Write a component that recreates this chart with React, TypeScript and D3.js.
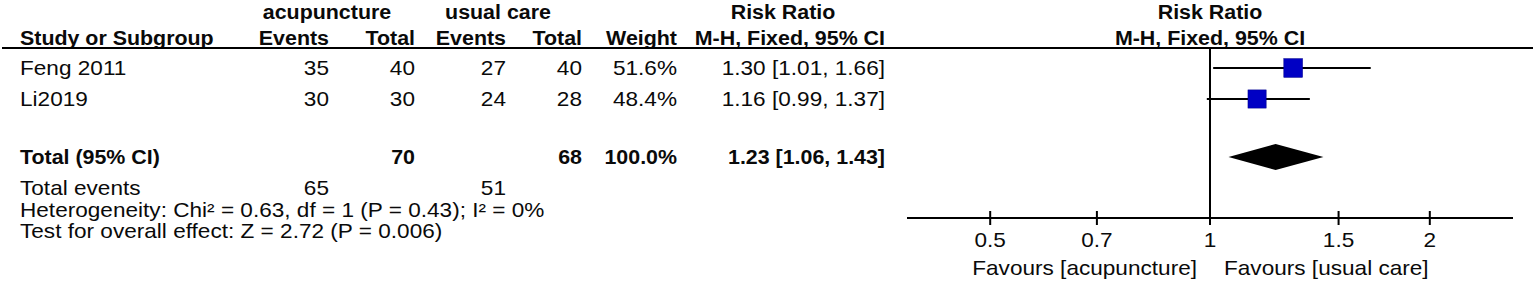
import React from "react";
import * as d3 from "d3";

const studies = ["Feng 2011", "Li2019"];
const expEvents = [35, 30];
const expTotal = [40, 30];
const ctlEvents = [27, 24];
const ctlTotal = [40, 28];
const weights = [51.6, 48.4];
const rr = [1.3, 1.16];
const rrLo = [1.01, 0.99];
const rrHi = [1.66, 1.37];

const pooled = { rr: 1.23, lo: 1.06, hi: 1.43 };
const totalExp = 70;
const totalCtl = 68;
const totalExpEvents = 65;
const totalCtlEvents = 51;
const heterogeneityText = "Heterogeneity: Chi\u00b2 = 0.63, df = 1 (P = 0.43); I\u00b2 = 0%";
const overallText = "Test for overall effect: Z = 2.72 (P = 0.006)";
const ticks = [0.5, 0.7, 1, 1.5, 2];
const favLeft = "Favours [acupuncture]";
const favRight = "Favours [usual care]";

const W = 1535;
const H = 284;
const FONT = "'Liberation Sans', Arial, sans-serif";
const FS = 20;
const SX = 1.13;
const SXB = 1.07;

const fmt2 = d3.format(".2f");
const rrText = (m: number, l: number, h: number) => `${fmt2(m)} [${fmt2(l)}, ${fmt2(h)}]`;

function T({ x, y, children, fontWeight, ...rest }: any) {
  const sx = fontWeight === "bold" ? SXB : SX;
  return (
    <text
      transform={`translate(${x},${y}) scale(${sx},1)`}
      fontFamily={FONT}
      fontSize={FS}
      fontWeight={fontWeight}
      fill="#0a0a0a"
      {...rest}
    >
      {children}
    </text>
  );
}

export default function App() {
  const x = d3.scaleLog().domain([1 / 2.6, 2.6]).range([907, 1513]);
  const rowMid = [68, 99];
  const totalMid = 157;
  const off = 7.2;
  const evBase = 195;
  const hetBase = 216.5;
  const testBase = 238;
  const axisY = 218;
  const lineY = 48;
  const col = { ev1: 329, tot1: 415, ev2: 506, tot2: 582, w: 677, rr: 885 };

  const diamond = d3.line()([
    [x(pooled.lo), totalMid],
    [x(pooled.rr), totalMid - 13],
    [x(pooled.hi), totalMid],
    [x(pooled.rr), totalMid + 13],
  ]) + "Z";

  const tb = totalMid + off;

  return (
    <div style={{ position: "absolute", left: 0, top: 0 }}>
      <svg width={W} height={H} style={{ display: "block", background: "#fff" }}>
        {/* headers */}
        <T x={327} y={19} textAnchor="middle" fontWeight="bold">acupuncture</T>
        <T x={498} y={19} textAnchor="middle" fontWeight="bold">usual care</T>
        <T x={783} y={19} textAnchor="middle" fontWeight="bold">Risk Ratio</T>
        <T x={1210} y={19} textAnchor="middle" fontWeight="bold">Risk Ratio</T>
        <T x={20} y={45} fontWeight="bold">Study or Subgroup</T>
        <T x={col.ev1} y={45} textAnchor="end" fontWeight="bold">Events</T>
        <T x={col.tot1} y={45} textAnchor="end" fontWeight="bold">Total</T>
        <T x={col.ev2} y={45} textAnchor="end" fontWeight="bold">Events</T>
        <T x={col.tot2} y={45} textAnchor="end" fontWeight="bold">Total</T>
        <T x={col.w} y={45} textAnchor="end" fontWeight="bold">Weight</T>
        <T x={col.rr} y={45} textAnchor="end" fontWeight="bold">M-H, Fixed, 95% CI</T>
        <T x={1210} y={45} textAnchor="middle" fontWeight="bold">M-H, Fixed, 95% CI</T>
        <line x1={2} x2={1533} y1={lineY} y2={lineY} stroke="#000" strokeWidth={2} />

        {/* study rows */}
        {studies.map((s, i) => {
          const yc = rowMid[i];
          const yb = yc + off;
          const side = 18.5 * Math.sqrt(weights[i] / 50);
          return (
            <g key={s}>
              <T x={20} y={yb}>{s}</T>
              <T x={col.ev1} y={yb} textAnchor="end">{expEvents[i]}</T>
              <T x={col.tot1} y={yb} textAnchor="end">{expTotal[i]}</T>
              <T x={col.ev2} y={yb} textAnchor="end">{ctlEvents[i]}</T>
              <T x={col.tot2} y={yb} textAnchor="end">{ctlTotal[i]}</T>
              <T x={col.w} y={yb} textAnchor="end">{d3.format(".1f")(weights[i])}%</T>
              <T x={col.rr} y={yb} textAnchor="end">{rrText(rr[i], rrLo[i], rrHi[i])}</T>
              <line x1={x(rrLo[i])} x2={x(rrHi[i])} y1={yc} y2={yc} stroke="#000" strokeWidth={2} />
              <rect x={x(rr[i]) - side / 2} y={yc - side / 2} width={side} height={side} fill="#0000c4" stroke="#00008a" strokeWidth={0.5} />
            </g>
          );
        })}

        {/* total row */}
        <T x={20} y={tb} fontWeight="bold">Total (95% CI)</T>
        <T x={col.tot1} y={tb} textAnchor="end" fontWeight="bold">{totalExp}</T>
        <T x={col.tot2} y={tb} textAnchor="end" fontWeight="bold">{totalCtl}</T>
        <T x={col.w} y={tb} textAnchor="end" fontWeight="bold">100.0%</T>
        <T x={col.rr} y={tb} textAnchor="end" fontWeight="bold">{rrText(pooled.rr, pooled.lo, pooled.hi)}</T>
        <path d={diamond} fill="#000" />

        <T x={20} y={evBase}>Total events</T>
        <T x={col.ev1} y={evBase} textAnchor="end">{totalExpEvents}</T>
        <T x={col.ev2} y={evBase} textAnchor="end">{totalCtlEvents}</T>
        <T x={20} y={hetBase}>{heterogeneityText}</T>
        <T x={20} y={testBase}>{overallText}</T>

        {/* axis */}
        <line x1={x(1)} x2={x(1)} y1={lineY} y2={axisY} stroke="#000" strokeWidth={2} />
        <line x1={x.range()[0]} x2={x.range()[1]} y1={axisY} y2={axisY} stroke="#000" strokeWidth={2} />
        {ticks.map((t) => (
          <g key={t}>
            <line x1={x(t)} x2={x(t)} y1={axisY - 7} y2={axisY + 7} stroke="#000" strokeWidth={2} />
            <T x={x(t)} y={247} textAnchor="middle">{String(t)}</T>
          </g>
        ))}
        <T x={x(1) - 13} y={275} textAnchor="end">{favLeft}</T>
        <T x={x(1) + 14} y={275}>{favRight}</T>
      </svg>
    </div>
  );
}
